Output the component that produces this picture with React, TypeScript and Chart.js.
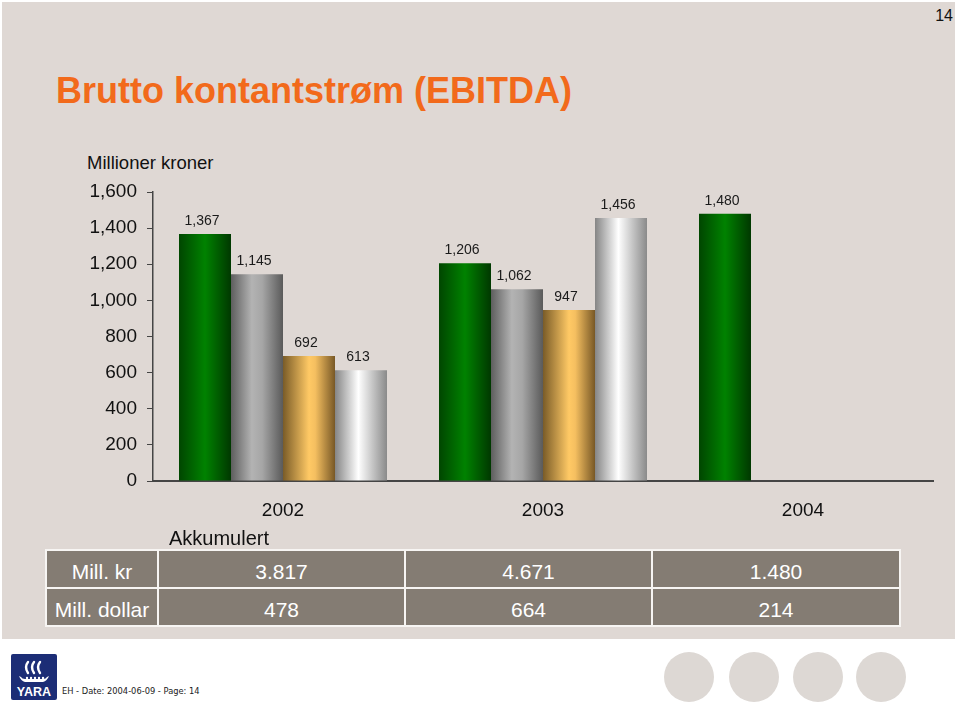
import React, { useEffect, useRef } from "react";
import { Chart, registerables } from "chart.js";

Chart.register(...registerables);

// ---- data ----
const years = ["2002", "2003", "2004"];
const greenValues = [1367, 1206, 1480];
const greyValues = [1145, 1062, null];
const orangeValues = [692, 947, null];
const silverValues = [613, 1456, null];
const yTicks = [0, 200, 400, 600, 800, 1000, 1200, 1400, 1600];
const rowLabels = ["Mill. kr", "Mill. dollar"];
const accumKr = ["3.817", "4.671", "1.480"];
const accumUsd = ["478", "664", "214"];

const titleText = "Brutto kontantstrøm (EBITDA)";
const unitText = "Millioner kroner";
const accumText = "Akkumulert";
const footerText = "EH - Date: 2004-06-09 - Page: 14";
const pageNo = "14";

// ---- styles ----
const FONT = '"Liberation Sans", Arial, Helvetica, sans-serif';
const SLIDE_BG = "#DFD8D4";
const CAT_PCT = 0.8;
const BAR_PCT = 1;

type Stop = [number, string];
const greenStops: Stop[] = [[0, "#004600"], [0.5, "#008200"], [1, "#003800"]];
const greyStops: Stop[] = [[0, "#5e5e5e"], [0.4, "#b3b3b3"], [0.6, "#a6a6a6"], [1, "#5a5a5a"]];
const orangeStops: Stop[] = [[0, "#7a5c28"], [0.5, "#ffc965"], [0.62, "#f5bf60"], [1, "#785826"]];
const silverStops: Stop[] = [[0, "#858585"], [0.45, "#ffffff"], [1, "#8a8a8a"]];

function barGradient(stops: Stop[]) {
  return (ctx: any) => {
    const chart = ctx.chart;
    const area = chart.chartArea;
    const xs = chart.scales && chart.scales.x;
    if (!area || !xs || ctx.dataIndex == null || ctx.datasetIndex == null) return stops[1][1];
    const n = years.length;
    const catW = (area.right - area.left) / n;
    const bw = (catW * CAT_PCT * BAR_PCT) / 4;
    const center = xs.getPixelForValue(ctx.dataIndex);
    const left = center - 2 * bw + ctx.datasetIndex * bw;
    const g = chart.ctx.createLinearGradient(left, 0, left + bw, 0);
    stops.forEach(([o, c]) => g.addColorStop(o, c));
    return g;
  };
}

const valueLabels = {
  id: "valueLabels",
  afterDatasetsDraw(chart: any) {
    const ctx = chart.ctx;
    ctx.save();
    ctx.font = `14px ${FONT}`;
    ctx.fillStyle = "#1a1a1a";
    ctx.textAlign = "center";
    ctx.textBaseline = "alphabetic";
    chart.data.datasets.forEach((ds: any, di: number) => {
      const meta = chart.getDatasetMeta(di);
      meta.data.forEach((el: any, i: number) => {
        const v = ds.data[i];
        if (v == null) return;
        ctx.fillText(Number(v).toLocaleString("en-US"), el.x - 3, el.y - 9);
      });
    });
    ctx.restore();
  },
};

function BarChart() {
  const ref = useRef<HTMLCanvasElement | null>(null);
  useEffect(() => {
    if (!ref.current) return;
    const chart = new Chart(ref.current, {
      type: "bar",
      data: {
        labels: years,
        datasets: [
          { data: greenValues, backgroundColor: barGradient(greenStops) as any },
          { data: greyValues, backgroundColor: barGradient(greyStops) as any },
          { data: orangeValues, backgroundColor: barGradient(orangeStops) as any },
          { data: silverValues, backgroundColor: barGradient(silverStops) as any },
        ],
      },
      options: {
        animation: false,
        responsive: false,
        events: [],
        layout: { padding: { top: 52, right: 27, left: 0, bottom: 0 } },
        datasets: { bar: { categoryPercentage: CAT_PCT, barPercentage: BAR_PCT, borderWidth: 0 } },
        plugins: { legend: { display: false }, tooltip: { enabled: false } },
        scales: {
          x: {
            grid: { display: true, color: "rgba(0,0,0,0)", drawTicks: false, drawOnChartArea: false },
            border: { display: true, color: "#454545", width: 2 },
            ticks: { color: "#111", font: { family: FONT, size: 19 }, padding: 18 },
            afterFit: (s: any) => { s.height = 59; },
          },
          y: {
            min: 0,
            max: 1600,
            afterBuildTicks: (s: any) => { s.ticks = yTicks.map((v) => ({ value: v })); },
            grid: { color: "#454545", drawOnChartArea: false, tickLength: 6, lineWidth: 1 },
            border: { display: true, color: "#454545", width: 1.5 },
            ticks: {
              color: "#111",
              font: { family: FONT, size: 19 },
              padding: 10,
              callback: (v: any) => Number(v).toLocaleString("en-US"),
            },
            afterFit: (s: any) => { s.width = 153; },
          },
        },
      },
      plugins: [valueLabels],
    });
    return () => chart.destroy();
  }, []);
  return (
    <canvas
      ref={ref}
      width={960}
      height={400}
      style={{ position: "absolute", left: 0, top: 140, width: 960, height: 400, display: "block" }}
    />
  );
}

function YaraLogo() {
  return (
    <svg width={46} height={46} viewBox="0 0 46 46" style={{ position: "absolute", left: 11, top: 654 }}>
      <rect x={0} y={0} width={46} height={46} rx={2} fill="#1C2D76" />
      <g fill="none" stroke="#fff" strokeWidth={2.4} strokeLinecap="round">
        <path d="M17 8 Q13 13 17 19" />
        <path d="M23 8 Q19 13 23 19" />
        <path d="M29 8 Q25 13 29 19" />
      </g>
      <path d="M8 22 Q10 27 14 28 L32 28 Q36 27 38 22 L36 23 Q35 25 32 25 L14 25 Q11 25 10 23 Z" fill="#fff" />
      <g fill="#fff">
        <circle cx={16} cy={24} r={1.2} />
        <circle cx={20} cy={24} r={1.2} />
        <circle cx={24} cy={24} r={1.2} />
        <circle cx={28} cy={24} r={1.2} />
        <circle cx={32} cy={24} r={1.2} />
      </g>
      <text x={23} y={42} textAnchor="middle" fontFamily={FONT} fontWeight="bold" fontSize={12.5} fill="#fff">
        YARA
      </text>
    </svg>
  );
}

export default function App() {
  const cols = [110, 245, 245, 246];
  const rows = [rowLabels[0], ...accumKr, rowLabels[1], ...accumUsd];
  const circles = [689, 754, 818, 881];
  return (
    <div
      style={{
        position: "fixed",
        left: 0,
        top: 0,
        width: 960,
        height: 717,
        background: "#ffffff",
        overflow: "hidden",
        fontFamily: FONT,
      }}
    >
      <div style={{ position: "absolute", left: 2, top: 2, width: 953, height: 637, background: SLIDE_BG }} />
      <div
        style={{
          position: "absolute",
          right: 7,
          top: 7,
          fontSize: 16,
          lineHeight: "17px",
          color: "#111",
        }}
      >
        {pageNo}
      </div>
      <div
        style={{
          position: "absolute",
          left: 56,
          top: 73,
          fontSize: 36,
          lineHeight: "36px",
          fontWeight: "bold",
          color: "#F26A1B",
          whiteSpace: "nowrap",
        }}
      >
        {titleText}
      </div>
      <div
        style={{
          position: "absolute",
          left: 87,
          top: 154,
          fontSize: 18.5,
          lineHeight: "18px",
          color: "#111",
          whiteSpace: "nowrap",
        }}
      >
        {unitText}
      </div>
      <BarChart />
      <div
        style={{
          position: "absolute",
          left: 169,
          top: 528,
          fontSize: 20,
          lineHeight: "20px",
          color: "#111",
          whiteSpace: "nowrap",
        }}
      >
        {accumText}
      </div>
      <div
        style={{
          position: "absolute",
          left: 45,
          top: 549,
          display: "grid",
          gridTemplateColumns: cols.map((c) => c + "px").join(" "),
          gridTemplateRows: "36px 36px",
          gap: 2,
          padding: 2,
          background: "#F7F5F3",
        }}
      >
        {rows.map((t, i) => (
          <div
            key={i}
            style={{
              background: "#847C73",
              color: "#ffffff",
              fontSize: 21,
              display: "flex",
              alignItems: "center",
              justifyContent: "center",
              whiteSpace: "nowrap",
            }}
          >
            <span style={{ position: "relative", top: 3 }}>{t}</span>
          </div>
        ))}
      </div>
      <YaraLogo />
      <div
        style={{
          position: "absolute",
          left: 62,
          top: 686,
          fontSize: 8.3,
          lineHeight: "10px",
          fontFamily: '"DejaVu Sans", Verdana, sans-serif',
          color: "#222",
          whiteSpace: "nowrap",
        }}
      >
        {footerText}
      </div>
      {circles.map((cx, i) => (
        <div
          key={i}
          style={{
            position: "absolute",
            left: cx - 25,
            top: 652,
            width: 50,
            height: 50,
            borderRadius: "50%",
            background: "#DDD8D4",
          }}
        />
      ))}
    </div>
  );
}
